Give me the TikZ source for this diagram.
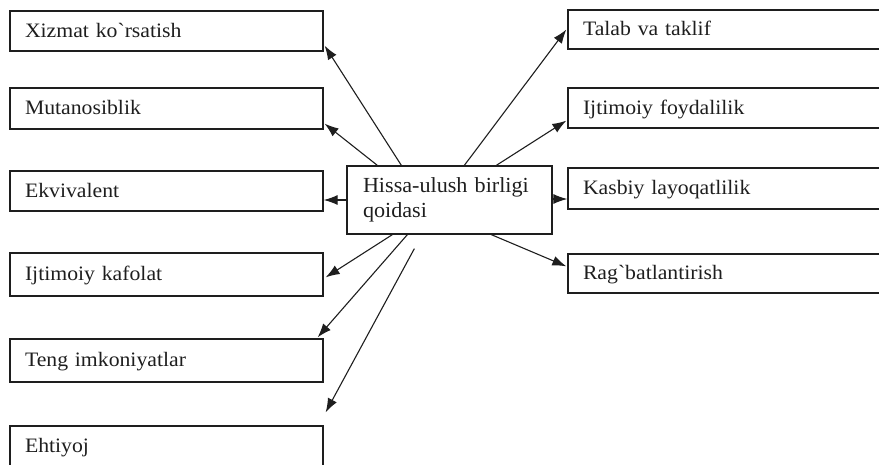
\documentclass[tikz,border=0pt]{standalone}
\usepackage{fontspec}
\setmainfont{Liberation Serif}
\newfontfamily\labelfont[FakeStretch=1.06]{Liberation Serif}
\newfontfamily\centerfont[FakeStretch=1.03]{Liberation Serif}
\usetikzlibrary{arrows.meta,calc}
\definecolor{ink}{RGB}{30,30,30}
\tikzset{
  lbox/.style={draw=ink, line width=1.3pt, rectangle, inner xsep=15pt, inner ysep=0pt,
    minimum width=#1, text width=#1-30pt, align=left, text height=15pt, text depth=3pt,
    text=ink, font=\labelfont\fontsize{20.5pt}{24pt}\selectfont},
  cbox/.style={draw=ink, line width=1.3pt, rectangle, inner xsep=16pt, inner ysep=0pt,
    minimum width=205pt, minimum height=68pt, text width=173pt, align=left,
    text=ink, font=\centerfont\fontsize{21.5pt}{25pt}\selectfont},
  conn/.style={draw=ink, line width=1.1pt, -{Latex[length=14pt,width=10pt]}},
}
\begin{document}
\begin{tikzpicture}[x=1pt,y=-1pt]
\useasboundingbox (0,0) rectangle (879,464);
\clip (0,0) rectangle (879,464);
% left boxes
\node[lbox=313pt, minimum height=40pt] (L1) at (166.5,31) {Xizmat ko`rsatish};
\node[lbox=313pt, minimum height=41pt] (L2) at (166.5,108.5) {Mutanosiblik};
\node[lbox=313pt, minimum height=40pt] (L3) at (166.5,191) {Ekvivalent};
\node[lbox=313pt, minimum height=43pt] (L4) at (166.5,274.5) {Ijtimoiy kafolat};
\node[lbox=313pt, minimum height=43pt] (L5) at (166.5,360.5) {Teng imkoniyatlar};
\node[lbox=313pt, minimum height=41pt] (L6) at (166.5,446.5) {Ehtiyoj};
% right boxes
\node[lbox=322pt, minimum height=39pt] (R1) at (729,29.5) {Talab va taklif};
\node[lbox=322pt, minimum height=40pt] (R2) at (729,108) {Ijtimoiy foydalilik};
\node[lbox=322pt, minimum height=41pt] (R3) at (729,188.5) {Kasbiy layoqatlilik};
\node[lbox=322pt, minimum height=39pt] (R4) at (729,273.5) {Rag`batlantirish};
% centre
\node[cbox] (C) at (449.5,200) {Hissa-ulush birligi\\qoidasi};
% connectors
\draw[conn] ([xshift=55pt]C.north west) -- ([xshift=1pt,yshift=6pt]L1.south east);
\draw[conn] ([xshift=31pt]C.north west) -- ([xshift=1pt,yshift=6pt]L2.south east);
\draw[conn] (C.west) -- (C.west -| L3.east);
\draw[conn] ([xshift=46pt]C.south west) -- ([xshift=2pt,yshift=-25pt]L4.north east);
\draw[conn] ([xshift=61pt]C.south west) -- ([xshift=-6pt,yshift=1pt]L5.north east);
\coordinate (E6) at ([xshift=2pt,yshift=13pt]L6.north east);
\draw[conn] ([xshift=68pt,yshift=-14pt]C.south west) -- (E6);
\draw[conn] ([xshift=118pt]C.north west) -- ([xshift=-1pt]R1.west);
\draw[conn] ([xshift=150pt]C.north west) -- ([xshift=-1pt,yshift=8pt]R2.south west);
\draw[conn] ([yshift=1pt]C.east) -- ([yshift=1pt]C.east -| R3.west);
\draw[conn] ([xshift=145pt]C.south west) -- ([xshift=-1pt,yshift=-13pt]R4.north west);
\end{tikzpicture}
\end{document}
